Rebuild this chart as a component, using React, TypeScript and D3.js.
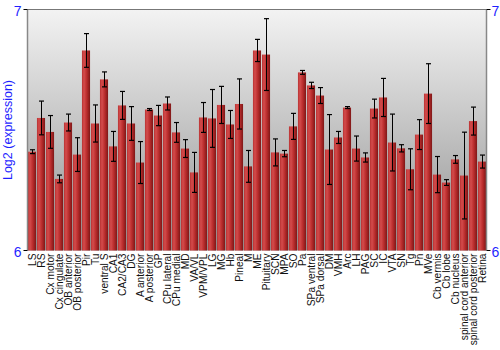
import React from "react";
import * as d3 from "d3";

const categories = ["LS","RS","Cx motor","Cx cingulate","OB anterior","OB posterior","Pir","Tu","ventral S","CA1","CA2/CA3","DG","A anterior","A posterior","GP","CPu lateral","CPu medial","MD","VA/VL","VPM/VPL","LG","MG","Hb","Pineal","M","ME","Pituitary","SCN","MPA","SO","Pa","SPa ventral","SPa dorsal","DM","VMH","Arc","LH","PAG","SC","IC","VTA","SN","Tg","Pn","MVe","Cb vermis","Cb lobe","Cb nucleus","spinal cord anterior","spinal cord posterior","Retina"];

const values = [6.410,6.550,6.492,6.297,6.531,6.398,6.830,6.527,6.710,6.432,6.602,6.527,6.365,6.585,6.560,6.610,6.490,6.423,6.324,6.552,6.548,6.604,6.523,6.608,6.349,6.830,6.813,6.407,6.402,6.515,6.739,6.685,6.643,6.419,6.469,6.593,6.423,6.386,6.589,6.635,6.448,6.424,6.337,6.481,6.651,6.315,6.282,6.378,6.311,6.537,6.369];

const errors = [0.008,0.070,0.068,0.016,0.035,0.070,0.070,0.077,0.031,0.062,0.058,0.070,0.087,0.004,0.042,0.027,0.041,0.037,0.083,0.062,0.120,0.077,0.058,0.104,0.066,0.046,0.149,0.056,0.013,0.054,0.008,0.013,0.033,0.145,0.025,0.004,0.052,0.019,0.039,0.079,0.118,0.015,0.085,0.062,0.124,0.075,0.012,0.016,0.180,0.058,0.027];

const yTicks = [6, 7];
const yLabel = "Log2 (expression)";

export default function App() {
  const W = 500, H = 350;
  const left = 27.5, right = 486.5, top = 9.5, bottom = 250.5;
  const x = d3.scaleBand<string>().domain(categories).range([left, right]).paddingInner(0.1).paddingOuter(0.05);
  const y = d3.scaleLinear().domain([6, 7]).range([bottom, top]);
  const blue = "#1f1fff";
  const font = "'Liberation Sans', Arial, sans-serif";
  return (
    <svg width={W} height={H} style={{ position: "absolute", left: 0, top: 0 }}>
      <defs>
        <linearGradient id="bg" x1="0" y1="0" x2="0" y2="1">
          <stop offset="0" stopColor="#f3f3f3" />
          <stop offset="1" stopColor="#929292" />
        </linearGradient>
        <linearGradient id="bar" x1="0" y1="0" x2="1" y2="0">
          <stop offset="0" stopColor="#b83232" />
          <stop offset="0.25" stopColor="#d44c4c" />
          <stop offset="0.6" stopColor="#b92c2c" />
          <stop offset="1" stopColor="#7e1717" />
        </linearGradient>
      </defs>
      <rect x={left} y={top} width={right - left} height={bottom - top} fill="url(#bg)" />
      {categories.map((c, i) => {
        const bx = x(c)!;
        const bw = x.bandwidth();
        const v = values[i];
        const e = errors[i];
        const cx = Math.round(bx + bw / 2) + 0.5;
        return (
          <g key={c}>
            <rect x={bx} y={y(v)} width={bw} height={bottom - y(v)} fill="url(#bar)" />
            <line x1={cx} x2={cx} y1={y(v + e)} y2={y(v - e)} stroke="#000" strokeWidth={1} />
            <line x1={cx - 2.5} x2={cx + 2.5} y1={y(v + e)} y2={y(v + e)} stroke="#000" strokeWidth={1.2} />
            <line x1={cx - 2.5} x2={cx + 2.5} y1={y(v - e)} y2={y(v - e)} stroke="#000" strokeWidth={1.2} />
            <text transform={`translate(${bx + bw / 2 + 3.5},${bottom + 3}) rotate(-90)`} textAnchor="end" fontFamily={font} fontSize={10.2} fill="#111">{c}</text>
          </g>
        );
      })}
      <line x1={left} x2={right} y1={top} y2={top} stroke="#777" strokeWidth={1.2} />
      <line x1={left} x2={left} y1={top} y2={bottom} stroke="#888" strokeWidth={1.5} />
      <line x1={right} x2={right} y1={top} y2={bottom} stroke="#888" strokeWidth={1.5} />
      {yTicks.map((t) => (
        <g key={t}>
          <line x1={left - 4} x2={left} y1={y(t)} y2={y(t)} stroke="#000" />
          <line x1={right} x2={right + 4} y1={y(t)} y2={y(t)} stroke="#000" />
          <text x={left - 6} y={y(t) + 6} textAnchor="end" fontFamily={font} fontSize={14} fill={blue}>{t}</text>
          <text x={right + 5} y={y(t) + 6} textAnchor="start" fontFamily={font} fontSize={14} fill={blue}>{t}</text>
        </g>
      ))}
      <text transform={`translate(12,${(top + bottom) / 2}) rotate(-90)`} textAnchor="middle" fontFamily={font} fontSize={12.5} fill={blue}>{yLabel}</text>
    </svg>
  );
}
